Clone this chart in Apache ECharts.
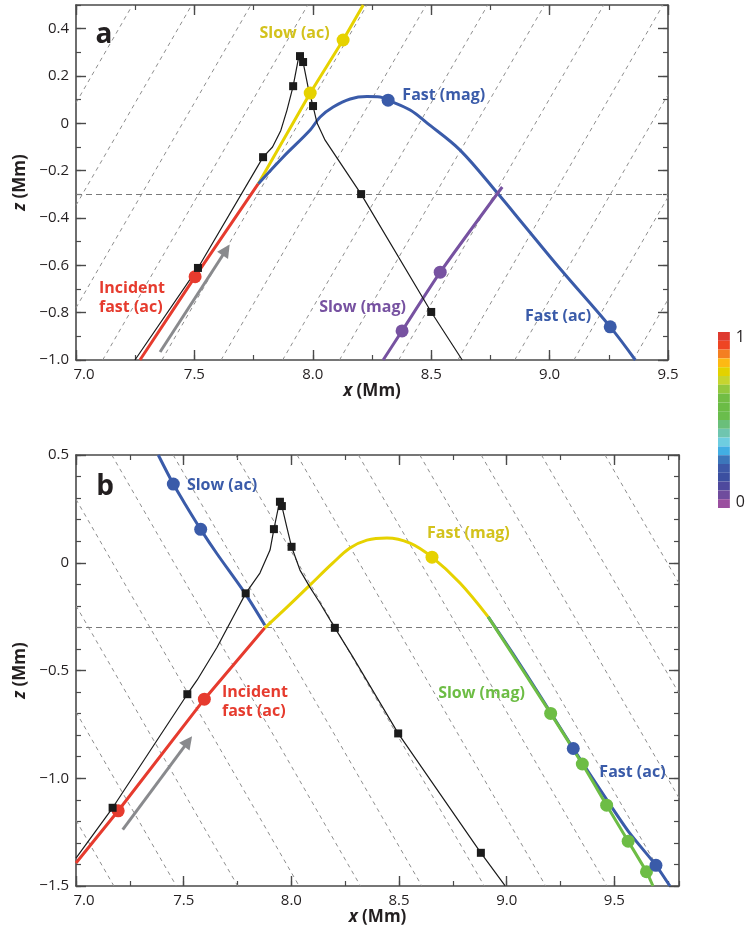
<!DOCTYPE html>
<html><head><meta charset="utf-8">
<script src="https://cdn.jsdelivr.net/npm/echarts@6/dist/echarts.min.js"></script>
<style>html,body{margin:0;padding:0;background:#fff}#c{width:748px;height:927px}</style>
</head><body><div id="c"></div>
<script>
// ---------------- DATA ----------------
// Panel a (x in Mm, z in Mm)
const xTicksA = [7.0, 7.5, 8.0, 8.5, 9.0, 9.5];
const yTicksA = [-1.0, -0.8, -0.6, -0.4, -0.2, 0, 0.2, 0.4];
const redA = [[7.270,-1.0],[7.503,-0.648],[7.770,-0.255]];
const redDotsA = [[7.503,-0.648]];
const yellowA = [[7.770,-0.255],[7.989,0.128],[8.128,0.352],[8.213,0.5]];
const yellowDotsA = [[7.989,0.128],[8.128,0.352]];
const blueA = [[7.770,-0.255],[7.875,-0.142],[7.989,-0.028],[8.031,0.027],[8.086,0.069],[8.158,0.103],[8.229,0.113],[8.284,0.111],[8.318,0.098],[8.411,0.056],[8.483,0.001],[8.622,-0.113],[8.784,-0.300],[8.886,-0.423],[9.049,-0.620],[9.256,-0.860],[9.362,-1.0]];
const blueDotsA = [[8.318,0.098],[9.256,-0.860]];
const purpleA = [[8.800,-0.269],[8.538,-0.629],[8.377,-0.877],[8.297,-1.0]];
const purpleDotsA = [[8.538,-0.629],[8.377,-0.877]];
const blackA = [[7.249,-1.0],[7.515,-0.611],[7.790,-0.143],[7.830,-0.100],[7.865,-0.030],[7.891,0.056],[7.917,0.157],[7.938,0.267],[7.946,0.284],[7.959,0.259],[7.980,0.153],[8.001,0.073],[8.018,0.001],[8.052,-0.071],[8.128,-0.185],[8.204,-0.299],[8.500,-0.797],[8.631,-1.0]];
const squaresA = [[7.515,-0.611],[7.790,-0.143],[7.917,0.157],[7.946,0.284],[7.959,0.259],[8.001,0.073],[8.204,-0.299],[8.500,-0.797]];
const arrowA = [[7.355,-0.966],[7.634,-0.535]];
const fieldA = [6.95,7.20,7.45,7.69,7.94,8.19,8.45,8.69,8.94,9.19,9.43,9.68,9.93]; // z=0 crossings
const fieldSlopeA = 1.732;
const eqLevel = -0.3;

// Panel b
const xTicksB = [7.0, 7.5, 8.0, 8.5, 9.0, 9.5];
const yTicksB = [-1.5, -1.0, -0.5, 0, 0.5];
const redB = [[7.0,-1.393],[7.196,-1.151],[7.596,-0.633],[7.877,-0.302]];
const redDotsB = [[7.196,-1.151],[7.596,-0.633]];
const yellowB = [[7.877,-0.302],[7.980,-0.206],[8.086,-0.104],[8.193,-0.001],[8.272,0.068],[8.351,0.105],[8.444,0.115],[8.551,0.091],[8.653,0.026],[8.783,-0.094],[8.914,-0.251]];
const yellowDotsB = [[8.653,0.026]];
const blueSlowB = [[7.877,-0.29],[7.785,-0.142],[7.653,0.044],[7.579,0.155],[7.514,0.260],[7.452,0.365],[7.382,0.5]];
const blueSlowDotsB = [[7.579,0.155],[7.452,0.365]];
const greenB = [[8.914,-0.251],[9.204,-0.699],[9.351,-0.934],[9.464,-1.125],[9.564,-1.292],[9.649,-1.434],[9.679,-1.5]];
const greenDotsB = [[9.204,-0.699],[9.351,-0.934],[9.464,-1.125],[9.564,-1.292],[9.649,-1.434]];
const blueFastB = [[8.914,-0.251],[9.028,-0.420],[9.160,-0.625],[9.309,-0.862],[9.465,-1.100],[9.572,-1.256],[9.693,-1.404],[9.758,-1.5]];
const blueFastDotsB = [[9.309,-0.862],[9.693,-1.404]];
const blackB = [[7.0,-1.371],[7.170,-1.137],[7.517,-0.610],[7.562,-0.545],[7.655,-0.392],[7.729,-0.253],[7.788,-0.142],[7.854,-0.048],[7.901,0.059],[7.919,0.156],[7.942,0.268],[7.947,0.283],[7.956,0.263],[7.980,0.161],[8.001,0.074],[8.040,-0.034],[8.086,-0.113],[8.133,-0.187],[8.202,-0.302],[8.286,-0.438],[8.496,-0.792],[8.880,-1.346],[8.992,-1.498]];
const squaresB = [[7.170,-1.137],[7.517,-0.610],[7.788,-0.142],[7.919,0.156],[7.947,0.283],[7.956,0.263],[8.001,0.074],[8.202,-0.302],[8.496,-0.792],[8.880,-1.346]];
const arrowB = [[7.217,-1.238],[7.521,-0.829]];
const fieldB = [6.31,6.60,6.885,7.17,7.455,7.74,8.03,8.315,8.60,8.885,9.17,9.45,9.745];
const fieldSlopeB = -1.732;

// Colour bar (top = 1, bottom = 0)
const cbColors = ['#DE3A2F','#EE4523','#F47F21','#FDB913','#E3D200','#C6D52F','#93C83E','#72BD44','#6BBC45','#6ABD4C','#6ABF7A','#6FC5AF','#6ECDE0','#42AEE3','#3C76BA','#3D58A7','#3B4FA0','#4E499D','#6F4C9D','#9A4F9F'];
const cbLabels = ['0','1'];

// ---------------- STYLE ----------------
const FONT = "'Open Sans', 'Noto Sans', sans-serif";
const TXT = '#231f20';
const AX = '#4a4a4a';
const C = {red:'#E63B2E', yellow:'#E6D200', yellowT:'#D3C21C', blue:'#3A5BA9', purple:'#7752A1', green:'#6DBD45', black:'#1b1b1b', gray:'#898A8D', dash:'#8e8e8e'};

const annA = [
  {t:'a', p:[7.118,0.373], letter:true},
  {t:'Slow (ac)', p:[7.923,0.381], c:C.yellowT},
  {t:'Fast (mag)', p:[8.553,0.119], c:C.blue},
  {t:'Incident\nfast (ac)', p:[7.097,-0.736], c:C.red, left:true},
  {t:'Slow (mag)', p:[8.210,-0.776], c:C.purple},
  {t:'Fast (ac)', p:[9.036,-0.818], c:C.blue}
];
const annB = [
  {t:'b', p:[7.135,0.351], letter:true},
  {t:'Slow (ac)', p:[7.678,0.361], c:C.blue},
  {t:'Fast (mag)', p:[8.822,0.138], c:C.yellowT},
  {t:'Incident\nfast (ac)', p:[7.678,-0.647], c:C.red, left:true},
  {t:'Slow (mag)', p:[8.883,-0.605], c:C.green},
  {t:'Fast (ac)', p:[9.584,-0.972], c:C.blue}
];

function fmtNum(v){ if (Math.abs(v) < 1e-9) return '0'; return v.toFixed(1).replace('-', '\u2212'); }

function frame(g, dim, min, max, major, minorInt, fmt, name, nameGap) {
  const isX = dim === 'x';
  const pos = isX ? ['bottom','top'] : ['left','right'];
  const out = [];
  pos.forEach((p, i) => {
    out.push({
      type:'value', gridIndex:g, min:min, max:max, position:p,
      axisLine:{show:true, onZero:false, lineStyle:{color:AX, width:1.6}},
      axisTick:{show:true, inside:true, length:10, customValues:major, lineStyle:{color:AX, width:1.4}},
      axisLabel: i === 0 ? {show:true, customValues:major, formatter:fmt, margin:7, fontSize:15, color:TXT, fontFamily:FONT,
        rich:{p:{padding:[0,0,0,16], fontSize:15, color:TXT, fontFamily:FONT}}} : {show:false},
      splitLine:{show:false},
      name: i === 0 ? name : '',
      nameLocation:'middle', nameGap:nameGap,
      nameTextStyle:{fontSize:17, fontWeight:'bold', color:TXT, fontFamily:FONT,
        rich:{i:{fontStyle:'italic', fontWeight:'bold', fontSize:17, color:TXT, fontFamily:FONT}}}
    });
    out.push({
      type:'value', gridIndex:g, min:min, max:max, interval:minorInt, position:p,
      axisLine:{show:false, onZero:false},
      axisTick:{show:true, inside:true, length:5, lineStyle:{color:AX, width:1.2}},
      axisLabel:{show:false}, splitLine:{show:false}
    });
  });
  return out;
}
const fmtX = v => Math.abs(v - 7) < 1e-9 ? '{p|7.0}' : v.toFixed(1);

function clipLine(x0, s, xmin, xmax, zmin, zmax) {
  const xa = x0 + zmin / s, xb = x0 + zmax / s;
  const lo = Math.max(xmin, Math.min(xa, xb)), hi = Math.min(xmax, Math.max(xa, xb));
  if (lo >= hi) return null;
  return [[lo, s * (lo - x0)], [hi, s * (hi - x0)]];
}

function panelSeries(ai, P) {
  const ax = {xAxisIndex: ai, yAxisIndex: ai};
  const s = [];
  s.push(Object.assign({type:'lines', coordinateSystem:'cartesian2d', silent:true, z:1,
    data: P.field.map(x0 => clipLine(x0, P.slope, P.xmin, P.xmax, P.zmin, P.zmax)).filter(c => c).map(c => ({coords:c})),
    lineStyle:{color:C.dash, width:1, type:[4,4], opacity:1}}, ax));
  s.push(Object.assign({type:'lines', coordinateSystem:'cartesian2d', silent:true, z:1,
    data:[{coords:[[P.xmin, eqLevel],[P.xmax, eqLevel]]}],
    lineStyle:{color:'#7a7a7a', width:1, type:[6,4], opacity:1}}, ax));
  s.push(Object.assign({type:'lines', coordinateSystem:'cartesian2d', silent:true, z:2,
    data:[{coords:P.arrow}], symbol:['none','triangle'], symbolSize:[1,13],
    lineStyle:{color:C.gray, width:3, opacity:1}, itemStyle:{color:C.gray}}, ax));
  P.lines.forEach(L => {
    s.push(Object.assign({type:'line', data:L.d, symbol:'none', smooth:L.smooth || false, silent:true, z:3,
      lineStyle:{color:L.c, width:L.w || 3}, clip:true}, ax));
  });
  P.dots.forEach(D => {
    s.push(Object.assign({type:'scatter', data:D.d, symbol:D.sym || 'circle', symbolSize:D.size || 13, silent:true, z:4,
      itemStyle:{color:D.c, opacity:1}}, ax));
  });
  s.push(Object.assign({type:'scatter', silent:true, z:6, symbolSize:1, itemStyle:{color:'rgba(0,0,0,0)', opacity:1},
    data: P.ann.map(a => ({value:a.p, label:{show:true, position:'inside', formatter:a.t,
      align: a.left ? 'left' : 'center', verticalAlign:'middle', opacity:1,
      color: a.letter ? TXT : a.c, fontFamily:FONT, fontWeight:'bold',
      textBorderWidth:0, textBorderColor:'transparent', textShadowBlur:0,
      fontSize: a.letter ? 28 : 16, lineHeight: a.letter ? 30 : 19}}))}, ax));
  return s;
}

const PA = {xmin:7.0, xmax:9.5, zmin:-1.0, zmax:0.5, field:fieldA, slope:fieldSlopeA, arrow:arrowA, ann:annA,
  lines:[{d:redA, c:C.red},{d:yellowA, c:C.yellow},{d:blueA, c:C.blue, smooth:0.35},{d:purpleA, c:C.purple, smooth:0.2},{d:blackA, c:C.black, w:1.2}],
  dots:[{d:redDotsA, c:C.red},{d:yellowDotsA, c:C.yellow},{d:blueDotsA, c:C.blue},{d:purpleDotsA, c:C.purple},{d:squaresA, c:C.black, sym:'rect', size:8}]};
const PB = {xmin:7.0, xmax:9.8, zmin:-1.5, zmax:0.5, field:fieldB, slope:fieldSlopeB, arrow:arrowB, ann:annB,
  lines:[{d:redB, c:C.red},{d:blueSlowB, c:C.blue, smooth:0.3},{d:yellowB, c:C.yellow, smooth:0.35},{d:blueFastB, c:C.blue, smooth:0.2},{d:greenB, c:C.green, smooth:0.2},{d:blackB, c:C.black, w:1.2}],
  dots:[{d:redDotsB, c:C.red},{d:blueSlowDotsB, c:C.blue},{d:yellowDotsB, c:C.yellow},{d:greenDotsB, c:C.green},{d:blueFastDotsB, c:C.blue},{d:squaresB, c:C.black, sym:'rect', size:8}]};

const xAxes = [].concat(
  frame(0,'x',7.0,9.5,xTicksA,0.25,fmtX,'{i|x} (Mm)',22),
  frame(1,'x',7.0,9.8,xTicksB,0.25,fmtX,'{i|x} (Mm)',20),
  [{type:'value', gridIndex:2, min:0, max:1, show:false}]
);
const yAxes = [].concat(
  frame(0,'y',-1.0,0.5,yTicksA,0.1,fmtNum,'{i|z} (Mm)',46),
  frame(1,'y',-1.5,0.5,yTicksB,0.1,fmtNum,'{i|z} (Mm)',46),
  [{type:'category', gridIndex:2, data:cbColors.map((c,i)=>i), inverse:true, show:false},
   {type:'value', gridIndex:2, min:0, max:1, position:'right', axisLine:{show:false}, axisTick:{show:false}, splitLine:{show:false},
    axisLabel:{customValues:[0.03,0.97], formatter:v => v < 0.5 ? cbLabels[0] : cbLabels[1], margin:6, fontSize:16, color:TXT, fontFamily:FONT}}]
);

const series = [].concat(panelSeries(0, PA), panelSeries(4, PB), [{
  type:'bar', xAxisIndex:8, yAxisIndex:8, silent:true, barWidth:'100%', barCategoryGap:'0%',
  data: cbColors.map(c => ({value:1, itemStyle:{color:c}}))
}]);

const chart = echarts.init(document.getElementById('c'), null, {renderer:'canvas', width:748, height:927});
chart.setOption({
  animation:false,
  backgroundColor:'#ffffff',
  textStyle:{fontFamily:FONT},
  grid:[
    {left:76, top:5, width:592, height:355},
    {left:76, top:455, width:603, height:431},
    {left:718, top:332, width:19, height:176}
  ],
  xAxis: xAxes,
  yAxis: yAxes,
  series: series
});
</script></body></html>
